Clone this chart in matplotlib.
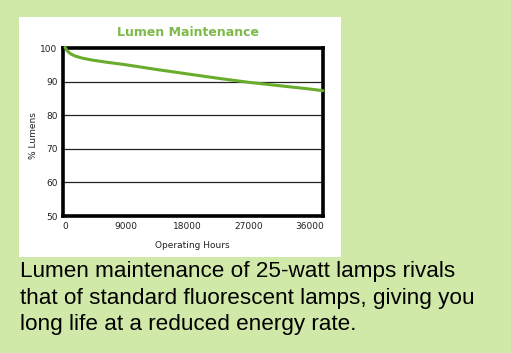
import matplotlib
matplotlib.use("Agg")
import matplotlib.pyplot as plt
from matplotlib.patches import Rectangle

hours = [0, 300, 800, 1500, 2500, 4000, 6000, 9000, 13500, 18000, 22500, 27000, 31500, 36000, 38000]
lumens = [100.2, 99.2, 98.3, 97.6, 97.0, 96.4, 95.8, 95.0, 93.6, 92.3, 91.0, 89.8, 88.8, 87.8, 87.3]
x_ticks = [0, 9000, 18000, 27000, 36000]
y_ticks = [50, 60, 70, 80, 90, 100]
title = "Lumen Maintenance"
xlabel = "Operating Hours"
ylabel = "% Lumens"
caption = ["Lumen maintenance of 25-watt lamps rivals",
           "that of standard fluorescent lamps, giving you",
           "long life at a reduced energy rate."]

W, H = 511, 353
fig = plt.figure(figsize=(W / 100, H / 100), dpi=100)
fig.patch.set_facecolor("#d0e9a8")

# white panel
fig.patches.append(Rectangle((19 / W, 1 - 257 / H), (341 - 19) / W, (257 - 17) / H,
                             transform=fig.transFigure, facecolor="white",
                             edgecolor="none", zorder=-5))

ax_l, ax_r, ax_t, ax_b = 63, 323, 48, 216
ax = fig.add_axes([ax_l / W, 1 - ax_b / H, (ax_r - ax_l) / W, (ax_b - ax_t) / H])
ax.set_zorder(2)
ax.set_facecolor("white")
ax.plot(hours, lumens, color="#6aac2c", lw=2.2, zorder=3, solid_capstyle="round",
        clip_on=False)
ax.set_xlim(-300, 38000)
ax.set_ylim(50, 100)
for v in [60, 70, 80, 90]:
    ax.axhline(v, color="#222222", lw=0.9, zorder=2)
for s in ax.spines.values():
    s.set_linewidth(2.6)
    s.set_color("black")
ax.set_xticks(x_ticks)
ax.set_yticks(y_ticks)
ax.tick_params(length=0, labelsize=6.5, pad=4, colors="#222222")
ax.tick_params(axis="y", pad=4)

fig.text(188 / W, 1 - 33 / H, title, color="#7dba4a", fontsize=9, fontweight="bold",
         ha="center", va="center", family="DejaVu Sans")
fig.text(192 / W, 1 - 245 / H, xlabel, color="#222222", fontsize=6.5,
         ha="center", va="center")
fig.text(33 / W, 1 - 136 / H, ylabel, color="#222222", fontsize=6.5,
         ha="center", va="center", rotation=90)

baselines = [277, 304, 330]
for line, yb in zip(caption, baselines):
    fig.text(20 / W, 1 - yb / H, line, family="Liberation Sans", fontsize=16.2,
             color="black", ha="left", va="baseline")

fig.savefig("out.png", dpi=100, facecolor=fig.get_facecolor())
